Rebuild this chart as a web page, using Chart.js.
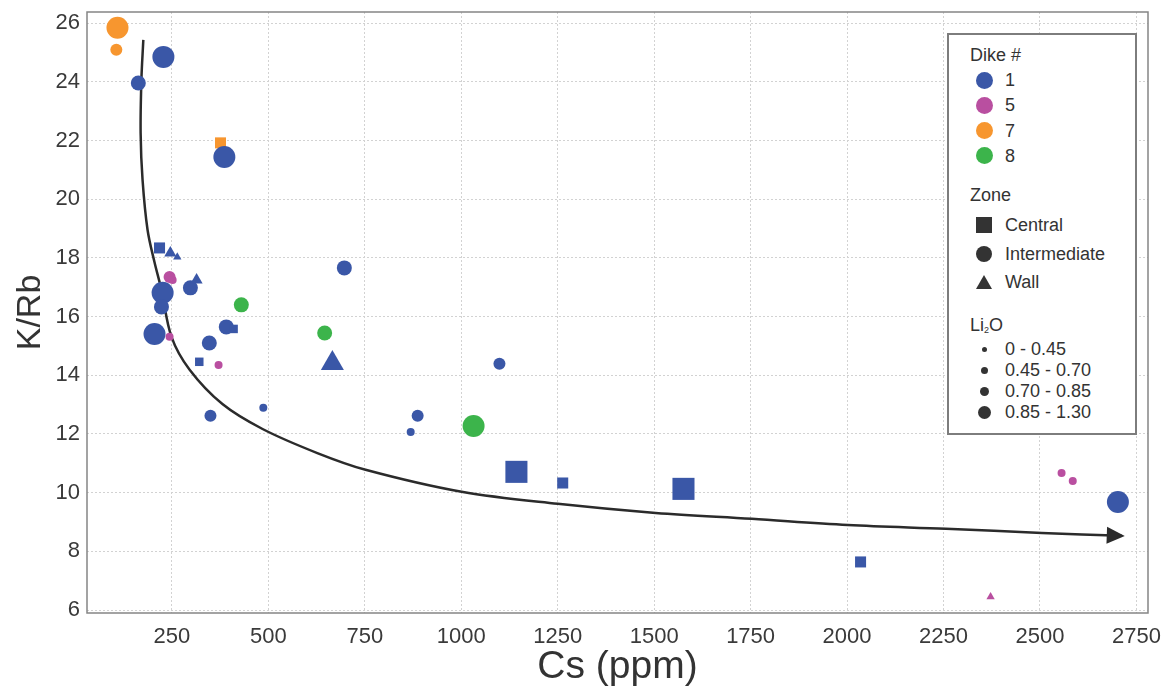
<!DOCTYPE html>
<html>
<head>
<meta charset="utf-8">
<script src="https://cdn.jsdelivr.net/npm/chart.js@4.4.1/dist/chart.umd.min.js"></script>
<style>
  body { margin: 0; background: #fff; font-family: "Liberation Sans", Arial, sans-serif; }
  #wrap { position: relative; width: 1168px; height: 691px; }
  #legend { position: absolute; left: 947px; top: 33px; width: 186px; height: 398px;
            border: 2px solid #7d7d7d; background: #fff; color: #333; font-size: 18px; }
  #legend div { position: absolute; white-space: nowrap; line-height: 20px; }
</style>
</head>
<body>
<div id="wrap">
  <canvas id="chart"></canvas>
  <div id="legend"></div>
</div>
<script>
// one entry per sample: Cs (ppm), K/Rb, dike #, zone, Li2O class (0..3)
const cs   = [163, 228, 386, 298, 226, 223, 205, 391, 347, 350, 487, 697, 1099, 887, 869, 2702,
              218, 410, 321, 1143, 1263, 1576, 2035,
              246, 264, 314, 666,
              244, 252, 244, 371, 2556, 2585, 2372,
              109, 106, 376,
              430, 646, 1032];
const kRb  = [23.96, 24.85, 21.44, 16.98, 16.81, 16.33, 15.41, 15.65, 15.10, 12.62, 12.89, 17.66, 14.39, 12.62, 12.07, 9.68,
              18.34, 15.58, 14.46, 10.71, 10.33, 10.13, 7.64,
              18.17, 18.03, 17.25, 14.41,
              17.35, 17.25, 15.31, 14.35, 10.67, 10.40, 6.45,
              25.84, 25.09, 21.92,
              16.40, 15.44, 12.27];
const dike = ['1', '1', '1', '1', '1', '1', '1', '1', '1', '1', '1', '1', '1', '1', '1', '1',
              '1', '1', '1', '1', '1', '1', '1',
              '1', '1', '1', '1',
              '5', '5', '5', '5', '5', '5', '5',
              '7', '7', '7',
              '8', '8', '8'];
const zone = ['Intermediate', 'Intermediate', 'Intermediate', 'Intermediate', 'Intermediate', 'Intermediate',
              'Intermediate', 'Intermediate', 'Intermediate', 'Intermediate', 'Intermediate', 'Intermediate',
              'Intermediate', 'Intermediate', 'Intermediate', 'Intermediate',
              'Central', 'Central', 'Central', 'Central', 'Central', 'Central', 'Central',
              'Wall', 'Wall', 'Wall', 'Wall',
              'Intermediate', 'Intermediate', 'Intermediate', 'Intermediate', 'Intermediate', 'Intermediate', 'Wall',
              'Intermediate', 'Intermediate', 'Central',
              'Intermediate', 'Intermediate', 'Intermediate'];
const li2o = [2, 3, 3, 2, 3, 2, 3, 2, 2, 1, 0, 2, 1, 1, 0, 3,
              1, 0, 0, 3, 1, 3, 1,
              1, 0, 1, 3,
              1, 0, 0, 0, 0, 0, 0,
              3, 1, 1,
              2, 2, 3];

// trend arrow
const trendCs  = [176, 171, 169, 174, 187, 205, 223, 249, 296, 381, 485, 627, 752, 1001, 1250, 1504, 1753, 2002, 2256, 2505, 2712];
const trendKRb = [25.43, 24.07, 22.26, 20.66, 18.95, 17.85, 16.91, 15.31, 14.19, 13.02, 12.17, 11.35, 10.78, 10.03, 9.62, 9.31, 9.11, 8.90, 8.77, 8.63, 8.53];

const dikeNames  = ['1', '5', '7', '8'];
const zoneNames  = ['Central', 'Intermediate', 'Wall'];
const li2oLabels = ['0 - 0.45', '0.45 - 0.70', '0.70 - 0.85', '0.85 - 1.30'];
const xTicks = [250, 500, 750, 1000, 1250, 1500, 1750, 2000, 2250, 2500, 2750];
const yTicks = [6, 8, 10, 12, 14, 16, 18, 20, 22, 24, 26];

// styling
const dikeColors = { '1': '#3a57a7', '5': '#b94fa0', '7': '#f7962f', '8': '#3cb44b' };
const shapeOf = { Central: 'rect', Intermediate: 'circle', Wall: 'triangle' };
const radiusOf = { Central: [6, 7.8, 9.9, 15.6], Intermediate: [4, 6, 7.5, 11], Wall: [4.8, 7, 9, 13.3] };
const drawOrder = ['5', '1', '7', '8'];  // first one ends up on top
const FONT = '"Liberation Sans", Arial, sans-serif';

const datasets = drawOrder.map(function (d) {
    const idx = cs.map((_, i) => i).filter(i => dike[i] === d);
    return {
        label: 'Dike ' + d,
        data: idx.map(i => ({ x: cs[i], y: kRb[i] })),
        pointStyle: idx.map(i => shapeOf[zone[i]]),
        pointRadius: idx.map(i => radiusOf[zone[i]][li2o[i]]),
        backgroundColor: dikeColors[d],
        borderColor: dikeColors[d],
        borderWidth: 0,
        showLine: false
    };
});

datasets.push({
    label: 'trend',
    data: trendCs.map((x, i) => ({ x: x, y: trendKRb[i] })),
    showLine: true,
    borderColor: '#2b2b2b',
    borderWidth: 2.5,
    tension: 0.35,
    pointRadius: 0,
    order: 10
});

// arrowhead at the end of the trend line + frame round the plot
const extras = {
    id: 'extras',
    beforeDatasetsDraw(chart) {
        const a = chart.chartArea, ctx = chart.ctx;
        ctx.save();
        ctx.strokeStyle = '#858585';
        ctx.lineWidth = 1.5;
        ctx.strokeRect(a.left, a.top, a.right - a.left, a.bottom - a.top);
        ctx.restore();
    },
    afterDatasetsDraw(chart) {
        const meta = chart.getDatasetMeta(chart.data.datasets.length - 1);
        const pts = meta.data;
        const p1 = pts[pts.length - 2], p2 = pts[pts.length - 1];
        const ang = Math.atan2(p2.y - p1.y, p2.x - p1.x);
        const ctx = chart.ctx;
        ctx.save();
        ctx.translate(p2.x, p2.y);
        ctx.rotate(ang);
        ctx.fillStyle = '#2b2b2b';
        ctx.beginPath();
        ctx.moveTo(3, 0);
        ctx.lineTo(-15, -8.5);
        ctx.lineTo(-15, 8.5);
        ctx.closePath();
        ctx.fill();
        ctx.restore();
    }
};

new Chart(document.getElementById('chart'), {
    type: 'scatter',
    data: { datasets: datasets },
    options: {
        responsive: true,
        maintainAspectRatio: false,
        animation: false,
        layout: { autoPadding: false, padding: { top: 12, right: 20, left: 0, bottom: 0 } },
        plugins: { legend: { display: false }, tooltip: { enabled: false } },
        scales: {
            x: {
                type: 'linear',
                min: 30, max: 2780,
                afterBuildTicks: s => { s.ticks = xTicks.map(v => ({ value: v })); },
                afterFit: s => { s.height = 78; s.paddingLeft = 0; s.paddingRight = 0; },
                ticks: { font: { family: FONT, size: 22 }, color: '#3a3a3a', padding: 11, maxRotation: 0, autoSkip: false,
                         callback: v => String(v) },
                grid: { color: '#d2d2d2', lineWidth: 1, drawTicks: false },
                border: { display: false, dash: [2, 2] },
                title: { display: true, text: 'Cs (ppm)', font: { family: FONT, size: 39 }, color: '#333', padding: { top: 0, bottom: 0 } }
            },
            y: {
                type: 'linear',
                min: 5.9, max: 26.38,
                afterBuildTicks: s => { s.ticks = yTicks.map(v => ({ value: v })); },
                afterFit: s => { s.width = 87; s.paddingTop = 0; s.paddingBottom = 0; },
                ticks: { font: { family: FONT, size: 22 }, color: '#3a3a3a', padding: 7 },
                grid: { color: '#d2d2d2', lineWidth: 1, drawTicks: false },
                border: { display: false, dash: [2, 2] },
                title: { display: true, text: 'K/Rb', font: { family: FONT, size: 34 }, color: '#333', padding: { top: 10, bottom: 0 } }
            }
        }
    },
    plugins: [extras]
});

// custom legend (dike colour, zone shape, Li2O size)
const legend = document.getElementById('legend');
function add(html, left, cy) {
    const el = document.createElement('div');
    el.innerHTML = html;
    el.style.left = left + 'px';
    el.style.top = (cy - 10) + 'px';
    legend.appendChild(el);
}
function mark(shape, size, color, cx, cy) {
    const el = document.createElement('div');
    el.style.cssText = 'position:absolute;background:' + color + ';width:' + size + 'px;height:' + size + 'px;' +
        'left:' + (cx - size / 2) + 'px;top:' + (cy - size / 2) + 'px;';
    if (shape === 'circle') el.style.borderRadius = '50%';
    if (shape === 'triangle') el.style.clipPath = 'polygon(50% 0, 100% 88%, 0 88%)';
    legend.appendChild(el);
}
add('Dike #', 21, 20);
dikeNames.forEach((d, i) => {
    const cy = 45 + i * 25.3;
    mark('circle', 17, dikeColors[d], 35, cy);
    add(d, 56, cy);
});
add('Zone', 21, 160);
zoneNames.forEach((z, i) => {
    const cy = 190 + i * 28.5;
    mark(shapeOf[z], 16, '#333', 35, cy + (z === 'Wall' ? 1 : 0));
    add(z, 56, cy);
});
add('Li<sub style="font-size:9px;vertical-align:-2px">2</sub>O', 21, 290);
const dotSizes = [5, 7, 9, 13];
li2oLabels.forEach((t, i) => {
    const cy = 314 + i * 21;
    mark('circle', dotSizes[i], '#333', 35, cy);
    add(t, 56, cy);
});
</script>
</body>
</html>
